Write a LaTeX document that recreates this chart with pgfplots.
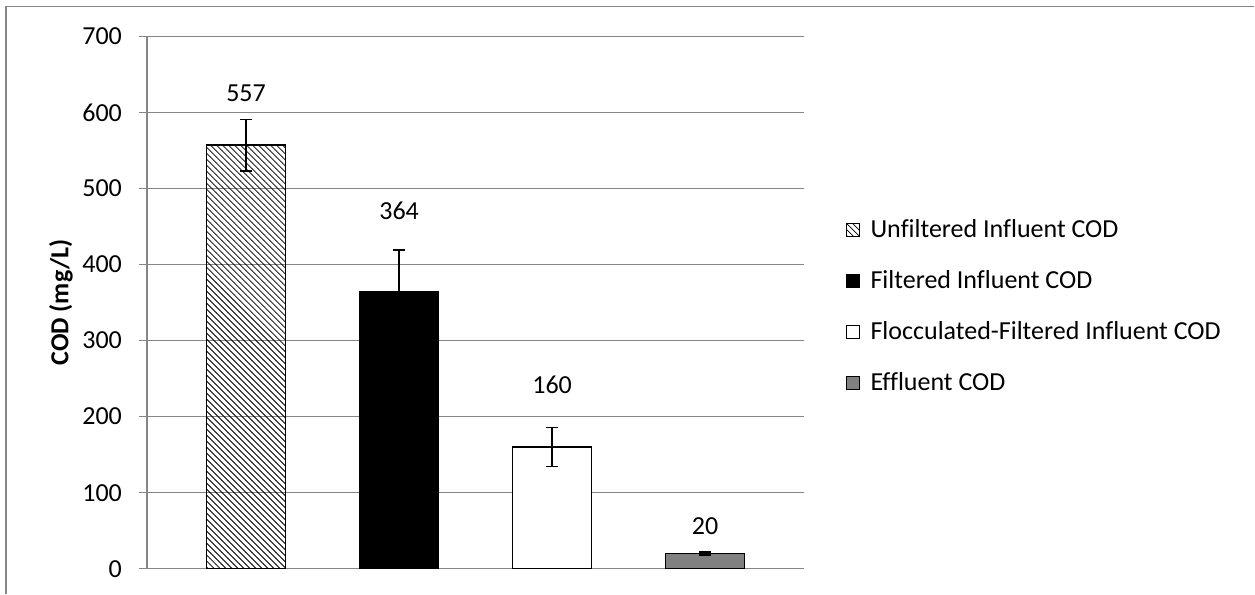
\documentclass[border=0pt]{standalone}
\usepackage{pgfplots}
\pgfplotsset{compat=1.18}
\usetikzlibrary{patterns}
\usepackage{fontspec}
\setmainfont{Carlito}[Ligatures=NoCommon]
\definecolor{gridgray}{RGB}{134,134,134}
\definecolor{effgray}{RGB}{128,128,128}
\newcommand{\fs}{\fontsize{13}{15}\selectfont}
\pgfplotsset{
  sq legend/.style={legend image code/.code={\draw[##1,line width=0.5pt] (0pt,-3.25pt) rectangle (6.5pt,3.25pt); \path (9.5pt,0pt);}},
  myerr/.style={error bars/.cd, y dir=both, y explicit,
     error bar style={black, line width=0.6pt},
     error mark options={rotate=90, mark size=3pt, black, line width=0.6pt}},
}
\begin{document}
\begin{tikzpicture}
\begin{axis}[
  at={(0,0)}, anchor=south west,
  scale only axis, width=328.5pt, height=266.35pt,
  xmin=-0.648, xmax=3.644, ymin=0, ymax=700,
  ytick={0,100,200,300,400,500,600,700},
  xtick=\empty,
  ymajorgrids, grid style={gridgray, line width=0.6pt},
  axis x line*=bottom, axis y line*=left,
  axis line style={gridgray, line width=0.6pt, -},
  tick style={gridgray, line width=0.6pt},
  major tick length=4pt, tick align=outside,
  /pgf/number format/assume math mode=true,
  yticklabel style={font=\fs, xshift=-5pt},
  ylabel={COD (mg/L)},
  ylabel style={font=\bfseries\fs, at={(axis description cs:-0.1309,0.5)}, anchor=center},
  legend style={at={(axis description cs:1,0.4927)}, anchor=west, xshift=21.4pt,
     draw=none, fill=none, font=\fs, inner sep=0pt, outer sep=0pt, row sep=11.1pt},
  legend cell align=left,
  clip=false,
]
\addplot[ybar, bar shift=0pt, bar width=39.75pt, draw=black, line width=0.65pt, pattern=north west lines, pattern color=black, sq legend, myerr]
  coordinates {(0,557) +- (0,34)};
\addlegendentry{Unfiltered Influent COD}
\addplot[ybar, bar shift=0pt, bar width=39.75pt, draw=black, line width=0.65pt, fill=black, sq legend, myerr]
  coordinates {(1,364) +- (0,55)};
\addlegendentry{Filtered Influent COD}
\addplot[ybar, bar shift=0pt, bar width=39.75pt, draw=black, line width=0.65pt, fill=white, sq legend, myerr]
  coordinates {(2,160) +- (0,25.5)};
\addlegendentry{Flocculated-Filtered Influent COD}
\addplot[ybar, bar shift=0pt, bar width=39.75pt, draw=black, line width=0.65pt, fill=effgray, sq legend, myerr]
  coordinates {(3,20) +- (0,2)};
\addlegendentry{Effluent COD}
\node[font=\fs] at (axis cs:0,625) {557};
\node[font=\fs] at (axis cs:1,470) {364};
\node[font=\fs] at (axis cs:2,241.5) {160};
\node[font=\fs] at (axis cs:3,56) {20};
\end{axis}
\draw[gridgray, line width=0.6pt] (-70.5pt,-12.5pt) -- (-70.5pt,281.15pt) -- (554pt,281.15pt);
\path[use as bounding box] (-73.5pt,-12.5pt) rectangle (554pt,284.5pt);
\end{tikzpicture}
\end{document}
